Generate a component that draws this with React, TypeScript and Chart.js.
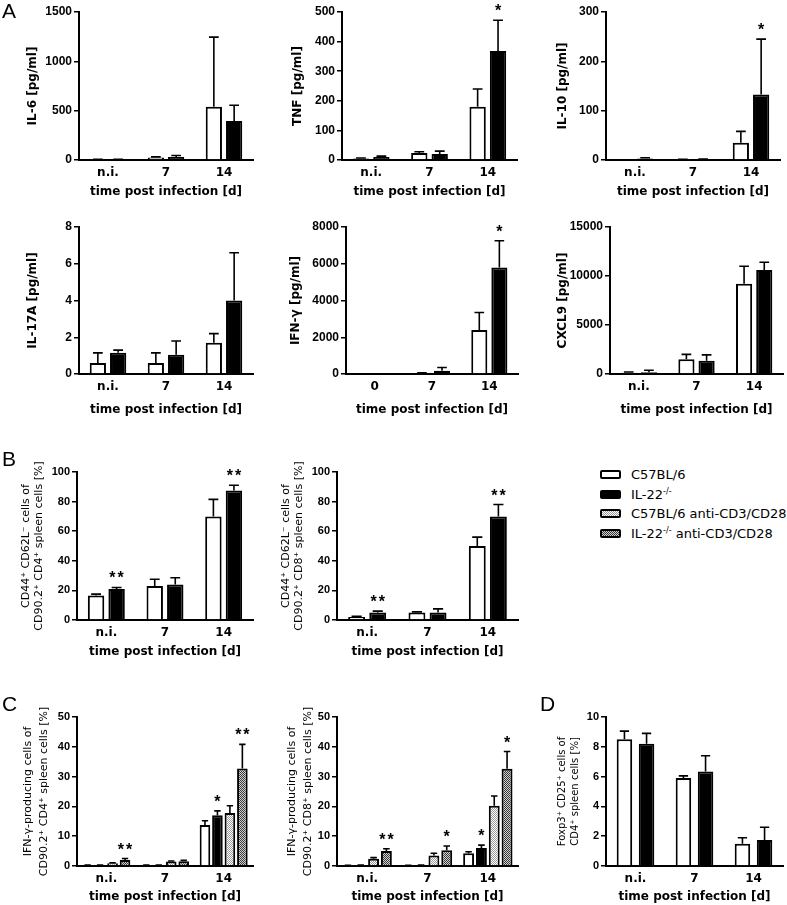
import React, { useEffect, useRef } from "react";
import { Chart, registerables } from "chart.js";
Chart.register(...registerables);

const SANS = "'Liberation Sans', Arial, Helvetica, sans-serif";
const DEJA = "'DejaVu Sans', 'Liberation Sans', sans-serif";

// ---------------- data ----------------
const daysNI = ["n.i.", "7", "14"];
const daysIFN = ["0", "7", "14"];
const xAxisTitle = "time post infection [d]";
const seriesNames = ["C57BL/6", "IL-22", "C57BL/6 anti-CD3/CD28", "IL-22"];

// Panel A
const il6WT = [4, 25, 540];
const il6WTErr = [6, 32, 1245];
const il6KO = [5, 30, 395];
const il6KOErr = [8, 45, 555];

const tnfWT = [5, 24, 180];
const tnfWTErr = [7, 28, 240];
const tnfKO = [10, 20, 368];
const tnfKOErr = [13, 30, 472];
const tnfKOStars = ["", "", "*"];

const il10WT = [0, 1, 35];
const il10WTErr = [0, 1.5, 58];
const il10KO = [3, 1.5, 133];
const il10KOErr = [4.5, 2, 245];
const il10KOStars = ["", "", "*"];

const il17WT = [0.6, 0.6, 1.7];
const il17WTErr = [1.15, 1.15, 2.2];
const il17KO = [1.15, 1.05, 4.0];
const il17KOErr = [1.3, 1.8, 6.6];

const ifnWT = [0, 50, 2400];
const ifnWTErr = [0, 60, 3350];
const ifnKO = [0, 180, 5800];
const ifnKOErr = [0, 350, 7250];
const ifnKOStars = ["", "", "*"];

const cxcl9WT = [120, 1500, 9200];
const cxcl9WTErr = [200, 2000, 11000];
const cxcl9KO = [180, 1350, 10600];
const cxcl9KOErr = [380, 1950, 11400];

// Panel B
const bCD4WT = [16.5, 23, 70];
const bCD4WTErr = [17.5, 27.5, 81.5];
const bCD4KO = [21, 24, 87.5];
const bCD4KOErr = [22, 28.5, 91];
const bCD4KOStars = ["**", "", "**"];

const bCD8WT = [2, 5, 50];
const bCD8WTErr = [2.5, 5.5, 56];
const bCD8KO = [5, 5, 70];
const bCD8KOErr = [6, 7.5, 78];
const bCD8KOStars = ["**", "", "**"];

// Panel C
const cCD4WT = [0.2, 0.2, 13.8];
const cCD4WTErr = [0.3, 0.3, 15.2];
const cCD4KO = [0.2, 0.2, 17];
const cCD4KOErr = [0.3, 0.3, 18.5];
const cCD4KOStars = ["", "", "*"];
const cCD4WTStim = [0.9, 1.5, 17.8];
const cCD4WTStimErr = [1.1, 1.7, 20.2];
const cCD4KOStim = [2.0, 1.6, 32.7];
const cCD4KOStimErr = [2.5, 1.9, 40.8];
const cCD4KOStimStars = ["**", "", "**"];

const cCD8WT = [0.1, 0.1, 4.3];
const cCD8WTErr = [0.2, 0.2, 4.8];
const cCD8KO = [0.2, 0.2, 6.0];
const cCD8KOErr = [0.3, 0.3, 7.0];
const cCD8KOStars = ["", "", "*"];
const cCD8WTStim = [2.4, 3.5, 20.2];
const cCD8WTStimErr = [2.8, 4.3, 23.5];
const cCD8KOStim = [5.0, 5.3, 32.6];
const cCD8KOStimErr = [5.8, 6.7, 38.4];
const cCD8KOStimStars = ["**", "*", "*"];

// Panel D
const dWT = [8.5, 5.9, 1.5];
const dWTErr = [9.05, 6.05, 1.9];
const dKO = [8.2, 6.35, 1.75];
const dKOErr = [8.9, 7.4, 2.6];

// ---------------- config ----------------
type Series = { values: number[]; errs: number[]; stars?: string[]; kind: number };
type TitleFont = { family: string; size: number; weight: string; lineHeight: number };
type PanelCfg = {
  labels: string[];
  series: Series[];
  yMax: number;
  yStep: number;
  yTitle: string | string[];
  yTitleFont: TitleFont;
  tickSize: number;
  box: [number, number, number, number];
  axisX: number;
  xEnd: number;
  yTop: number;
  yZero: number;
  yTitleX: number;
  catPct: number;
  barPct: number;
};

const fontA: TitleFont = { family: DEJA, size: 12, weight: "bold", lineHeight: 1.2 };
const fontB: TitleFont = { family: DEJA, size: 11, weight: "normal", lineHeight: 1.18 };
const fontC: TitleFont = { family: DEJA, size: 11, weight: "normal", lineHeight: 1.5 };
const fontD: TitleFont = { family: DEJA, size: 10, weight: "normal", lineHeight: 1.3 };

const two = (w: number[], we: number[], k: number[], ke: number[], ks?: string[]): Series[] => [
  { values: w, errs: we, kind: 0 },
  { values: k, errs: ke, stars: ks, kind: 1 },
];

const panels: PanelCfg[] = [
  { labels: daysNI, series: two(il6WT, il6WTErr, il6KO, il6KOErr), yMax: 1500, yStep: 500, yTitle: "IL-6 [pg/ml]", yTitleFont: fontA, tickSize: 12,
    box: [0, 0, 258, 199], axisX: 79, xEnd: 253, yTop: 12, yZero: 160, yTitleX: 33, catPct: 0.7, barPct: 0.8 },
  { labels: daysNI, series: two(tnfWT, tnfWTErr, tnfKO, tnfKOErr, tnfKOStars), yMax: 500, yStep: 100, yTitle: "TNF [pg/ml]", yTitleFont: fontA, tickSize: 12,
    box: [262, 0, 522, 199], axisX: 342, xEnd: 517, yTop: 12, yZero: 160, yTitleX: 298, catPct: 0.7, barPct: 0.8 },
  { labels: daysNI, series: two(il10WT, il10WTErr, il10KO, il10KOErr, il10KOStars), yMax: 300, yStep: 100, yTitle: "IL-10 [pg/ml]", yTitleFont: fontA, tickSize: 12,
    box: [526, 0, 787, 199], axisX: 606, xEnd: 780, yTop: 12, yZero: 160, yTitleX: 563, catPct: 0.7, barPct: 0.8 },
  { labels: daysNI, series: two(il17WT, il17WTErr, il17KO, il17KOErr), yMax: 8, yStep: 2, yTitle: "IL-17A [pg/ml]", yTitleFont: fontA, tickSize: 12,
    box: [0, 205, 258, 417], axisX: 79, xEnd: 253, yTop: 227, yZero: 374, yTitleX: 33, catPct: 0.7, barPct: 0.8 },
  { labels: daysIFN, series: two(ifnWT, ifnWTErr, ifnKO, ifnKOErr, ifnKOStars), yMax: 8000, yStep: 2000, yTitle: "IFN-γ [pg/ml]", yTitleFont: fontA, tickSize: 12,
    box: [262, 205, 522, 417], axisX: 346, xEnd: 518, yTop: 227, yZero: 374, yTitleX: 296, catPct: 0.7, barPct: 0.8 },
  { labels: daysNI, series: two(cxcl9WT, cxcl9WTErr, cxcl9KO, cxcl9KOErr), yMax: 15000, yStep: 5000, yTitle: "CXCL9 [pg/ml]", yTitleFont: fontA, tickSize: 12,
    box: [526, 205, 787, 417], axisX: 610, xEnd: 783, yTop: 227, yZero: 374, yTitleX: 563, catPct: 0.7, barPct: 0.8 },
  { labels: daysNI, series: two(bCD4WT, bCD4WTErr, bCD4KO, bCD4KOErr, bCD4KOStars), yMax: 100, yStep: 20,
    yTitle: ["CD44⁺ CD62L⁻ cells of", "CD90.2⁺ CD4⁺ spleen cells [%]"], yTitleFont: fontB, tickSize: 11,
    box: [0, 440, 258, 659], axisX: 77, xEnd: 253, yTop: 472, yZero: 620, yTitleX: 26, catPct: 0.7, barPct: 0.8 },
  { labels: daysNI, series: two(bCD8WT, bCD8WTErr, bCD8KO, bCD8KOErr, bCD8KOStars), yMax: 100, yStep: 20,
    yTitle: ["CD44⁺ CD62L⁻ cells of", "CD90.2⁺ CD8⁺ spleen cells [%]"], yTitleFont: fontB, tickSize: 11,
    box: [262, 440, 522, 659], axisX: 337, xEnd: 518, yTop: 472, yZero: 620, yTitleX: 286, catPct: 0.7, barPct: 0.8 },
  { labels: daysNI, series: [
      { values: cCD4WT, errs: cCD4WTErr, kind: 0 },
      { values: cCD4KO, errs: cCD4KOErr, stars: cCD4KOStars, kind: 1 },
      { values: cCD4WTStim, errs: cCD4WTStimErr, kind: 2 },
      { values: cCD4KOStim, errs: cCD4KOStimErr, stars: cCD4KOStimStars, kind: 3 },
    ], yMax: 50, yStep: 10,
    yTitle: ["IFN-γ-producing cells of", "CD90.2⁺ CD4⁺ spleen cells [%]"], yTitleFont: fontC, tickSize: 11,
    box: [0, 700, 258, 904], axisX: 77, xEnd: 253, yTop: 717, yZero: 866, yTitleX: 28, catPct: 0.85, barPct: 0.85 },
  { labels: daysNI, series: [
      { values: cCD8WT, errs: cCD8WTErr, kind: 0 },
      { values: cCD8KO, errs: cCD8KOErr, stars: cCD8KOStars, kind: 1 },
      { values: cCD8WTStim, errs: cCD8WTStimErr, kind: 2 },
      { values: cCD8KOStim, errs: cCD8KOStimErr, stars: cCD8KOStimStars, kind: 3 },
    ], yMax: 50, yStep: 10,
    yTitle: ["IFN-γ-producing cells of", "CD90.2⁺ CD8⁺ spleen cells [%]"], yTitleFont: fontC, tickSize: 11,
    box: [262, 700, 522, 904], axisX: 337, xEnd: 518, yTop: 717, yZero: 866, yTitleX: 292, catPct: 0.85, barPct: 0.85 },
  { labels: daysNI, series: two(dWT, dWTErr, dKO, dKOErr), yMax: 10, yStep: 2,
    yTitle: ["Foxp3⁺ CD25⁺ cells of", "CD4⁺ spleen cells [%]"], yTitleFont: fontD, tickSize: 11,
    box: [526, 700, 787, 904], axisX: 606, xEnd: 783, yTop: 717, yZero: 866, yTitleX: 562, catPct: 0.75, barPct: 0.7 },
];

// ---------------- helpers ----------------
function makePattern(ctx: CanvasRenderingContext2D, a: string, b: string) {
  const p = document.createElement("canvas");
  p.width = 2;
  p.height = 2;
  const g = p.getContext("2d")!;
  g.fillStyle = a;
  g.fillRect(0, 0, 2, 2);
  g.fillStyle = b;
  g.fillRect(0, 0, 1, 1);
  g.fillRect(1, 1, 1, 1);
  return ctx.createPattern(p, "repeat")!;
}

const errorBarPlugin = {
  id: "errbars",
  afterDatasetsDraw(chart: any) {
    const ctx: CanvasRenderingContext2D = chart.ctx;
    const yScale = chart.scales.y;
    chart.data.datasets.forEach((ds: any, i: number) => {
      const meta = chart.getDatasetMeta(i);
      meta.data.forEach((el: any, j: number) => {
        const v = ds.data[j];
        const e = ds.errs ? ds.errs[j] : null;
        const x = el.x;
        const hw = el.width * 0.3;
        let top = el.y;
        ctx.save();
        if (e != null && e > v) {
          const ey = yScale.getPixelForValue(e);
          ctx.strokeStyle = "#000";
          ctx.lineWidth = 1.6;
          ctx.beginPath();
          ctx.moveTo(x, el.y);
          ctx.lineTo(x, ey);
          ctx.moveTo(x - hw, ey);
          ctx.lineTo(x + hw, ey);
          ctx.stroke();
          top = ey;
        }
        const s = ds.stars ? ds.stars[j] : "";
        if (s) {
          ctx.fillStyle = "#000";
          ctx.font = `bold 16px ${SANS}`;
          (ctx as any).letterSpacing = "2px";
          ctx.textAlign = "center";
          ctx.textBaseline = "alphabetic";
          ctx.fillText(s, x + 1, top - 4);
        }
        ctx.restore();
      });
    });
  },
};

function Panel({ cfg }: { cfg: PanelCfg }) {
  const ref = useRef<HTMLCanvasElement>(null);
  const [l, t, r, b] = cfg.box;
  const W = r - l;
  const H = b - t;
  useEffect(() => {
    const c = ref.current!;
    const ctx = c.getContext("2d")!;
    const fills: any[] = [
      "#ffffff",
      "#000000",
      makePattern(ctx, "#ffffff", "#9a9a9a"),
      makePattern(ctx, "#cfcfcf", "#3a3a3a"),
    ];
    const tf = cfg.yTitleFont;
    const lh = tf.size * tf.lineHeight;
    const chart = new Chart(c, {
      type: "bar",
      data: {
        labels: cfg.labels,
        datasets: cfg.series.map((s) => ({
          data: s.values,
          errs: s.errs,
          stars: s.stars,
          backgroundColor: fills[s.kind],
          borderColor: "#000",
          borderWidth: 2,
          borderSkipped: "start",
          categoryPercentage: cfg.catPct,
          barPercentage: cfg.barPct,
        })) as any,
      },
      options: {
        animation: false,
        responsive: false,
        devicePixelRatio: 1,
        events: [],
        layout: { padding: { top: cfg.yTop - t, right: r - cfg.xEnd, left: 0, bottom: 0 } },
        plugins: { legend: { display: false }, tooltip: { enabled: false } },
        scales: {
          x: {
            grid: { display: false, drawTicks: false },
            border: { display: true, color: "#000", width: 2 },
            ticks: { color: "#000", font: { family: DEJA, size: 12, weight: "bold" }, padding: 6, maxRotation: 0, autoSkip: false },
            title: { display: true, text: xAxisTitle, color: "#000", font: { family: DEJA, size: 12, weight: "bold", lineHeight: 1.2 }, padding: 0 },
            afterFit: (s: any) => {
              s.height = b - cfg.yZero;
            },
          },
          y: {
            min: 0,
            max: cfg.yMax,
            ticks: {
              stepSize: cfg.yStep,
              color: "#000",
              autoSkip: false,
              font: { family: SANS, size: cfg.tickSize, weight: "bold" },
              padding: 2,
              callback: (v: any) => String(v),
            },
            grid: { display: true, drawOnChartArea: false, drawTicks: true, tickLength: 5, color: "#000", lineWidth: 1.5 },
            border: { display: true, color: "#000", width: 2 },
            title: {
              display: true,
              text: cfg.yTitle,
              color: "#000",
              font: { family: tf.family, size: tf.size, weight: tf.weight as any, lineHeight: tf.lineHeight },
              padding: { top: cfg.yTitleX - l - lh / 2, bottom: 0 },
            },
            afterFit: (s: any) => {
              s.width = cfg.axisX - l;
            },
          },
        },
      } as any,
      plugins: [errorBarPlugin],
    });
    return () => chart.destroy();
  }, []);
  return <canvas ref={ref} width={W} height={H} style={{ position: "absolute", left: l, top: t, width: W, height: H }} />;
}

const letterStyle = (x: number, y: number): React.CSSProperties => ({
  position: "absolute",
  left: x,
  top: y,
  font: `21px ${SANS}`,
  lineHeight: "21px",
  color: "#000",
});

const swatchBg = [
  "#ffffff",
  "#000000",
  "repeating-conic-gradient(#9a9a9a 0 25%, #ffffff 0 50%) 0 0 / 2px 2px",
  "repeating-conic-gradient(#3a3a3a 0 25%, #cfcfcf 0 50%) 0 0 / 2px 2px",
];
const legendRowsY = [474, 494, 513, 533];

function Legend() {
  return (
    <>
      {seriesNames.map((name, i) => (
        <div key={i} style={{ position: "absolute", left: 600, top: legendRowsY[i] - 9, height: 18, display: "flex", alignItems: "center" }}>
          <div style={{ width: 17, height: 5, border: "2px solid #000", borderRadius: 2, background: swatchBg[i] }} />
          <span style={{ marginLeft: 10, font: `13px ${DEJA}`, color: "#000", whiteSpace: "nowrap" }}>
            {i === 1 || i === 3 ? (
              <>
                IL-22<sup style={{ fontSize: 8, verticalAlign: "5px" }}>-/-</sup>
                {i === 3 ? " anti-CD3/CD28" : ""}
              </>
            ) : (
              name
            )}
          </span>
        </div>
      ))}
    </>
  );
}

export default function App() {
  return (
    <div style={{ position: "absolute", left: 0, top: 0, width: 787, height: 905, background: "#fff", overflow: "hidden" }}>
      {panels.map((p, i) => (
        <Panel key={i} cfg={p} />
      ))}
      <div style={letterStyle(2, 0)}>A</div>
      <div style={letterStyle(2, 448)}>B</div>
      <div style={letterStyle(2, 693)}>C</div>
      <div style={letterStyle(540, 693)}>D</div>
      <Legend />
    </div>
  );
}
